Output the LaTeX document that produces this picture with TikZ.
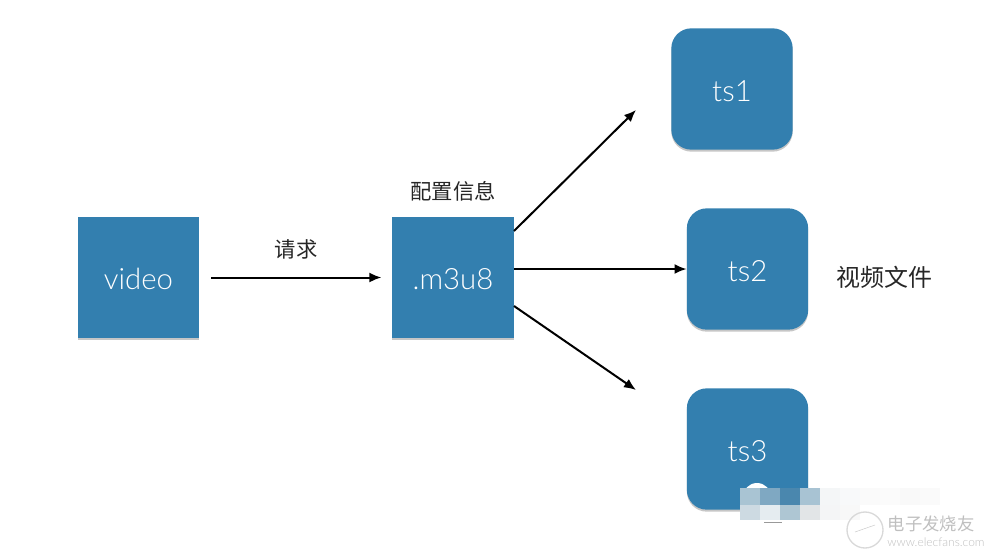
\documentclass[tikz,border=0pt]{standalone}
\usepackage{fontspec}
\setmainfont{Lato Light}
\newfontfamily\cjk{Noto Sans CJK SC}
\usetikzlibrary{shadows,arrows.meta}
\definecolor{boxblue}{HTML}{337FAF}
\tikzset{
  box/.style={fill=boxblue,text=white,minimum size=91pt,inner sep=0pt,font=\fontsize{22}{22}\selectfont,
    text height=18.6pt,text depth=0pt,
    drop shadow={shadow xshift=0pt,shadow yshift=-1.5pt,opacity=.45}},
  roundbox/.style={box,rounded corners=15pt},
  link/.style={-{Latex[length=9pt,width=7.5pt]},line width=1.5pt,black},
  label/.style={font=\cjk\fontsize{16}{16}\selectfont,text=black!85},
  faint/.style={text=black!25},
}
\begin{document}
\begin{tikzpicture}[x=0.75pt,y=-0.75pt]
\useasboundingbox (0,0) rectangle (993,558);
\node[box] (video) at (138.5,277.5) {video};
\node[box] (m3u8) at (453,277.5) {.m3u8};
\node[roundbox] (ts1) at (732,89) {ts1};
\node[roundbox] (ts2) at (747.5,269) {ts2};
\node[roundbox] (ts3) at (747.5,449) {ts3};
\node[label] (req) at (296,249) {请求};
\node[label] (conf) at (453,191) {配置信息};
\node[label,font=\cjk\fontsize{18}{18}\selectfont] (files) at (884,277) {视频文件};
\coordinate (up) at (636,110);
\coordinate (down) at (636,390);
\coordinate (upstart) at (514,231);
\coordinate (downstart) at (514,306);
\draw[link,shorten <=9pt,shorten >=8pt] (video) -- (m3u8);
\draw[link] (upstart) -- (up);
\draw[link] (m3u8.east |- ts2) -- (ts2);
\draw[link] (downstart) -- (down);
% mosaic over ts3
\fill[white] (757,497) circle (14);
\draw[black!40] (764,522) -- (782,522);
\draw[black!50] (915,488) -- (915,494);
\foreach \i/\c in {0/A9C4D3,1/7FA8C2,2/4A87AE,3/A8C3D3,4/F4F6F7,5/F8F9FA,6/FAFAFA,7/FBFBFB,8/F9F9F9,9/FAFAFA}{
  \definecolor{cell}{HTML}{\c}
  \fill[cell] (740+20*\i,488) rectangle +(20,17);
}
\foreach \i/\c in {0/CDDAE2,1/E5ECF0,2/AEC6D3,3/E2E5E7,4/F4F5F6,5/F8F8F8}{
  \definecolor{cell}{HTML}{\c}
  \fill[cell] (740+20*\i,505) rectangle +(20,15);
}
% watermark
\draw[black!15,line width=1pt] (865,530) circle (18);
\draw[black!20] (855,532) -- (875,525);
\node[faint,font=\cjk\fontsize{13}{13}\selectfont] (mark) at (931,524) {电子发烧友};
\node[faint,font=\fontsize{9}{9}\selectfont] (site) at (936,542) {www.elecfans.com};
\end{tikzpicture}
\end{document}
